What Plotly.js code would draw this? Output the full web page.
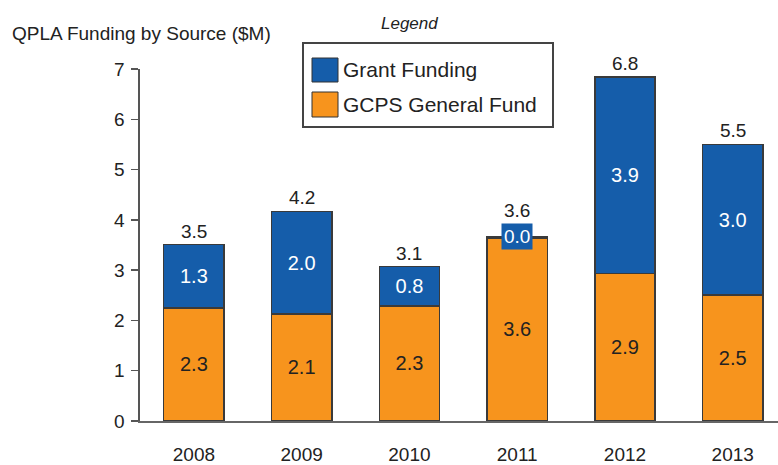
<!DOCTYPE html>
<html>
<head>
<meta charset="utf-8">
<script src="https://cdn.plot.ly/plotly-3.0.1.min.js"></script>
<style>html,body{margin:0;padding:0;background:#fff;}#chart{width:778px;height:465px;}</style>
</head>
<body>
<div id="chart"></div>
<script>
const categories = ['2008', '2009', '2010', '2011', '2012', '2013'];
const generalFund = [2.25, 2.13, 2.29, 3.64, 2.93, 2.51];
const grantFunding = [1.26, 2.04, 0.78, 0.02, 3.91, 2.99];
const generalLabels = ['2.3', '2.1', '2.3', '3.6', '2.9', '2.5'];
const grantLabels = ['1.3', '2.0', '0.8', '0.0', '3.9', '3.0'];
const totalLabels = ['3.5', '4.2', '3.1', '3.6', '6.8', '5.5'];
const yTicks = [0, 1, 2, 3, 4, 5, 6, 7];

const FONT = 'Liberation Sans, Arial, Helvetica, sans-serif';
const BLUE = '#155DAA';
const ORANGE = '#F7941D';
const INK = '#222222';

// plot area in pixels: left 140, right 778, top 69, bottom 421
const L = 140, R = 778, T = 69, B = 421;
const px = p => (p - L) / (R - L);
const py = p => (B - p) / (B - T);

const smallIdx = grantFunding.map((v, i) => v < 0.1 ? i : -1).filter(i => i >= 0);

const traces = [
  {
    type: 'bar', name: 'GCPS General Fund', x: categories, y: generalFund,
    text: generalLabels, textposition: 'inside', insidetextanchor: 'middle',
    textfont: {family: FONT, size: 20, color: INK}, textangle: 0,
    marker: {color: ORANGE, line: {color: '#3a3a3a', width: 1.5}},
    width: 0.56, hoverinfo: 'skip'
  },
  {
    type: 'bar', name: 'Grant Funding', x: categories, y: grantFunding,
    text: grantLabels,
    textposition: grantFunding.map(v => v < 0.1 ? 'none' : 'inside'),
    insidetextanchor: 'middle', textangle: 0,
    textfont: {family: FONT, size: 20, color: '#ffffff'},
    marker: {color: BLUE, line: {color: '#3a3a3a', width: 1.5}},
    width: 0.56, hoverinfo: 'skip'
  }
];

const annotations = [];
categories.forEach((c, i) => {
  const isSmall = smallIdx.includes(i);
  annotations.push({
    x: i, y: generalFund[i] + grantFunding[i], xref: 'x', yref: 'y',
    text: totalLabels[i], showarrow: false, yanchor: 'bottom',
    yshift: isSmall ? 14 : 1,
    font: {family: FONT, size: 19, color: INK}
  });
});
smallIdx.forEach(i => {
  annotations.push({
    x: i, y: generalFund[i] + grantFunding[i], xref: 'x', yref: 'y',
    text: grantLabels[i], showarrow: false, yanchor: 'middle',
    bgcolor: BLUE, borderpad: 2,
    font: {family: FONT, size: 19, color: '#ffffff'}
  });
});

// Legend (drawn manually to match the large swatches of the reference)
annotations.push({
  xref: 'paper', yref: 'paper', x: px(409), y: py(24), xanchor: 'center', yanchor: 'middle',
  text: 'Legend', showarrow: false,
  font: {family: FONT, size: 17, color: INK, style: 'italic'}
});
annotations.push({
  xref: 'paper', yref: 'paper', x: px(341), y: py(70), xanchor: 'left', yanchor: 'middle',
  text: traces[1].name, showarrow: false, font: {family: FONT, size: 21, color: INK}
});
annotations.push({
  xref: 'paper', yref: 'paper', x: px(341), y: py(104), xanchor: 'left', yanchor: 'middle',
  text: traces[0].name, showarrow: false, font: {family: FONT, size: 21, color: INK}
});

const shapes = [
  {type: 'rect', xref: 'paper', yref: 'paper', x0: px(303), x1: px(553), y0: py(127), y1: py(43),
   line: {color: '#444', width: 2}, fillcolor: 'rgba(0,0,0,0)'},
  {type: 'rect', xref: 'paper', yref: 'paper', x0: px(312), x1: px(338), y0: py(82), y1: py(58),
   line: {color: '#333', width: 1}, fillcolor: BLUE},
  {type: 'rect', xref: 'paper', yref: 'paper', x0: px(312), x1: px(338), y0: py(117), y1: py(92),
   line: {color: '#333', width: 1}, fillcolor: ORANGE}
];

const layout = {
  width: 778, height: 465,
  margin: {l: L, r: 778 - R, t: T, b: 465 - B, pad: 0},
  paper_bgcolor: '#ffffff', plot_bgcolor: '#ffffff',
  barmode: 'stack', showlegend: false,
  font: {family: FONT, color: INK},
  title: {
    text: 'QPLA Funding by Source ($M)', xref: 'container', yref: 'container',
    x: 12 / 778, xanchor: 'left', y: 1 - 33 / 465, yanchor: 'middle',
    font: {family: FONT, size: 19, color: INK}
  },
  xaxis: {
    type: 'category', range: [-0.5, 5.42], showgrid: false, zeroline: false,
    showline: true, linecolor: '#666', linewidth: 2, ticks: '',
    tickfont: {family: FONT, size: 19, color: INK}, ticklabelstandoff: 15,
    fixedrange: true
  },
  yaxis: {
    range: [0, 7], tickvals: yTicks, ticktext: yTicks.map(String),
    showgrid: false, zeroline: false, showline: true, linecolor: '#555', linewidth: 2.5,
    ticks: 'outside', ticklen: 7, tickwidth: 1.5, tickcolor: '#555',
    tickfont: {family: FONT, size: 19, color: INK}, ticklabelstandoff: 2,
    fixedrange: true
  },
  annotations: annotations,
  shapes: shapes
};

Plotly.newPlot('chart', traces, layout, {staticPlot: true, displayModeBar: false});
</script>
</body>
</html>
